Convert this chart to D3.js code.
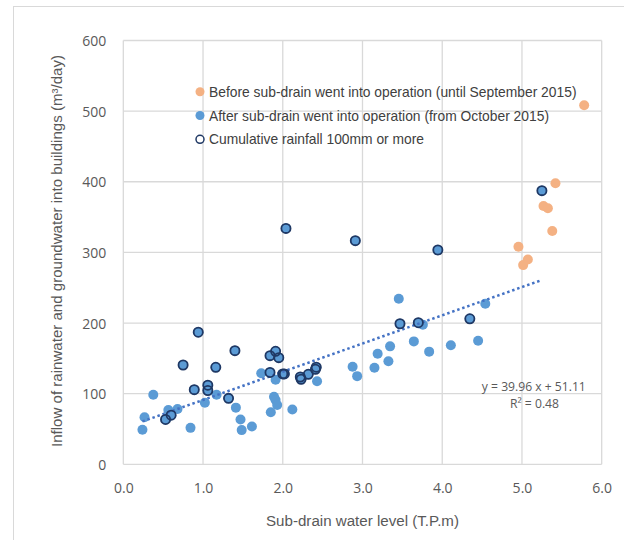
<!DOCTYPE html>
<html><head><meta charset="utf-8">
<script src="https://cdn.jsdelivr.net/npm/d3@7"></script>
<style>body{margin:0;background:#fff}svg{display:block}</style>
</head><body>
<svg id="c" width="624" height="540"></svg>
<script>
// ---- data ----
const beforeX = [5.78, 5.42, 5.27, 5.325, 5.38, 4.956, 5.074, 5.015];
const beforeY = [508.3, 397.8, 365.7, 362.5, 330.3, 308, 290, 282];

const afterX = [0.376, 0.266, 0.24, 0.565, 0.68, 0.843, 1.023, 1.17, 1.412, 1.47, 1.485, 1.613, 1.73, 1.91, 1.89, 1.91, 1.93, 1.85, 2.12, 2.43, 2.876, 2.933, 3.455, 3.757, 3.644, 3.346, 3.19, 3.325, 3.15, 3.836, 4.108, 4.45, 4.54];
const afterY = [98.5, 66.5, 48.8, 77, 78.3, 51.6, 87.2, 98.5, 80.2, 63.5, 48.4, 53.5, 128.8, 119.7, 95.7, 91, 84, 73.6, 77.6, 117.5, 138, 124.8, 234.5, 197.7, 174, 167, 156.6, 146, 136.8, 159.5, 168.5, 175, 227.4];

const rainX = [2.04, 2.91, 3.945, 5.25, 0.94, 0.75, 1.40, 1.16, 0.89, 1.06, 1.06, 1.32, 0.53, 0.60, 1.84, 1.91, 1.95, 1.84, 2.00, 2.02, 2.22, 2.23, 2.32, 2.41, 2.42, 3.47, 3.70, 4.346];
const rainY = [334, 316.6, 303.4, 387.4, 187, 140.6, 160.9, 137.3, 105.7, 112, 104.5, 93.4, 63.5, 69.6, 153.8, 160, 151, 130, 128, 128, 123.6, 120.4, 127.4, 134.5, 137.5, 199, 200.5, 206];

const trendSlope = 39.96, trendIntercept = 51.11;
const xTicks = [0, 1, 2, 3, 4, 5, 6];
const yTicks = [0, 100, 200, 300, 400, 500, 600];
const legendLabels = [
  "Before sub-drain went into operation (until September 2015)",
  "After sub-drain went into operation (from October 2015)",
  "Cumulative rainfall 100mm or more"
];
const xTitle = "Sub-drain water level (T.P.m)";
const yTitle = "Inflow of rainwater and groundwater into buildings (m³/day)";
const eqLine1 = "y = 39.96 x + 51.11";
const eqLine2 = "R² = 0.48";

// ---- drawing ----
const svg = d3.select("#c");
const x = d3.scaleLinear().domain([0, 6]).range([123.3, 601.7]);
const y = d3.scaleLinear().domain([0, 600]).range([464.3, 40.5]);
const ORANGE = "#F4B183", BLUE = "#5B9BD5", NAVY = "#1F3864", GRID = "#d9d9d9", LBL = "#595959";

function fit(sel, w) {
  sel.each(function () {
    const L = this.getComputedTextLength();
    if (L > 0) d3.select(this).attr("textLength", w).attr("lengthAdjust", "spacingAndGlyphs");
  });
  return sel;
}

// outer frame
svg.append("rect").attr("x", 13.5).attr("y", 6.5).attr("width", 700).attr("height", 700)
  .attr("fill", "none").attr("stroke", GRID).attr("stroke-width", 1);

// gridlines
const g = svg.append("g");
g.selectAll("line.v").data(xTicks).join("line")
  .attr("x1", d => x(d)).attr("x2", d => x(d)).attr("y1", y(0)).attr("y2", y(600))
  .attr("stroke", GRID).attr("stroke-width", 1.3);
g.selectAll("line.h").data(yTicks).join("line")
  .attr("y1", d => y(d)).attr("y2", d => y(d)).attr("x1", x(0)).attr("x2", x(6))
  .attr("stroke", GRID).attr("stroke-width", 1.3);

// axes (labels via d3 axes, lines hidden)
const xAxis = d3.axisBottom(x).tickValues(xTicks).tickFormat(d3.format(".1f")).tickSize(0).tickPadding(0);
const yAxis = d3.axisLeft(y).tickValues(yTicks).tickFormat(d3.format("d")).tickSize(0).tickPadding(0);
const gx = svg.append("g").attr("transform", `translate(0,${y(0) + 19})`).call(xAxis);
const gy = svg.append("g").attr("transform", `translate(${x(0) - 17},0)`).call(yAxis);
[gx, gy].forEach(a => {
  a.select(".domain").remove();
  a.selectAll("text").attr("fill", LBL).style("font-family", "'Open Sans', sans-serif").style("font-size", "14px");
});
gx.selectAll("text").attr("dy", "0.71em");
gy.selectAll("text").attr("dy", "0.36em");

// axis titles
fit(svg.append("text").attr("x", 362.5).attr("y", 526).attr("text-anchor", "middle")
  .attr("fill", LBL).style("font-family", "'Liberation Sans', Arial, sans-serif").style("font-size", "14px")
  .text(xTitle), 193);
fit(svg.append("text").attr("transform", "translate(62,251) rotate(-90)").attr("text-anchor", "middle")
  .attr("fill", LBL).style("font-family", "'Liberation Sans', Arial, sans-serif").style("font-size", "14px")
  .text(yTitle), 392);

// points
svg.append("g").selectAll("circle").data(beforeX.map((d, i) => [d, beforeY[i]])).join("circle")
  .attr("cx", d => x(d[0])).attr("cy", d => y(d[1])).attr("r", 5).attr("fill", ORANGE);
svg.append("g").selectAll("circle").data(afterX.map((d, i) => [d, afterY[i]]).concat(rainX.map((d, i) => [d, rainY[i]]))).join("circle")
  .attr("cx", d => x(d[0])).attr("cy", d => y(d[1])).attr("r", 5).attr("fill", BLUE);

// trendline
const allAfterX = afterX.concat(rainX);
const tx = d3.extent(allAfterX);
svg.append("line")
  .attr("x1", x(tx[0])).attr("y1", y(trendSlope * tx[0] + trendIntercept))
  .attr("x2", x(5.22)).attr("y2", y(trendSlope * 5.22 + trendIntercept))
  .attr("stroke", "#4472C4").attr("stroke-width", 2.5).attr("stroke-dasharray", "2.5 2.8");

// rainfall outline markers
svg.append("g").selectAll("circle").data(rainX.map((d, i) => [d, rainY[i]])).join("circle")
  .attr("cx", d => x(d[0])).attr("cy", d => y(d[1])).attr("r", 4.6)
  .attr("fill", "none").attr("stroke", NAVY).attr("stroke-width", 1.8);

// equation
fit(svg.append("text").attr("x", 533.8).attr("y", 391).attr("text-anchor", "middle").attr("fill", LBL)
  .style("font-family", "'Open Sans', sans-serif").style("font-size", "12px").text(eqLine1), 104);
fit(svg.append("text").attr("x", 534.5).attr("y", 408).attr("text-anchor", "middle").attr("fill", LBL)
  .style("font-family", "'Open Sans', sans-serif").style("font-size", "12px").text(eqLine2), 49);

// legend
const legY = [91.7, 115.5, 139.3];
const legW = [367.5, 340, 215];
const lg = svg.append("g");
lg.append("circle").attr("cx", 200).attr("cy", legY[0]).attr("r", 4.5).attr("fill", ORANGE);
lg.append("circle").attr("cx", 200).attr("cy", legY[1]).attr("r", 4.5).attr("fill", BLUE);
lg.append("circle").attr("cx", 200).attr("cy", legY[2]).attr("r", 4).attr("fill", "#fff").attr("stroke", NAVY).attr("stroke-width", 1.5);
legendLabels.forEach((t, i) => {
  fit(lg.append("text").attr("x", 209).attr("y", legY[i] + 5).attr("fill", "#404040")
    .style("font-family", "'Liberation Sans', Arial, sans-serif").style("font-size", "14.5px").text(t), legW[i]);
});
</script>
</body></html>
